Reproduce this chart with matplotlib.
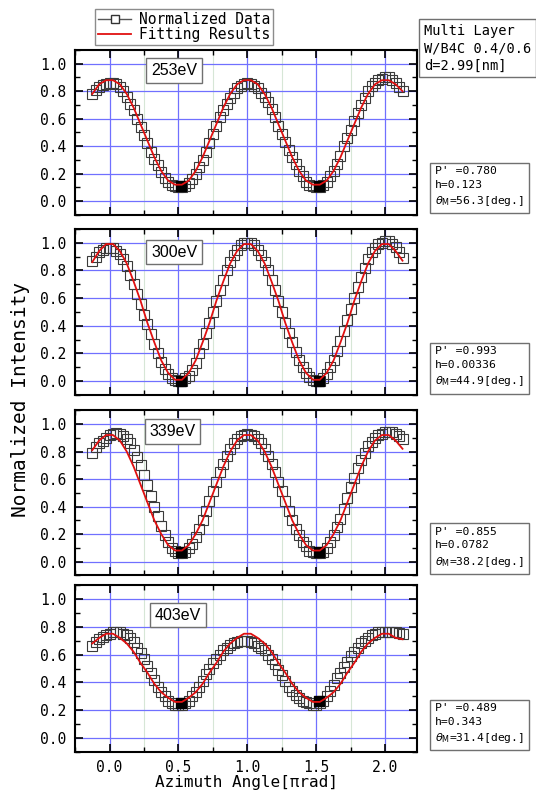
import numpy as np
import matplotlib.pyplot as plt
from matplotlib.lines import Line2D
from matplotlib.ticker import MultipleLocator

# azimuth angle of the measured points, in units of pi rad
angle = [-0.125, -0.100, -0.075, -0.050, -0.025, 0.000, 0.025, 0.050, 0.075, 0.100,
         0.125, 0.150, 0.175, 0.200, 0.225, 0.250, 0.275, 0.300, 0.325, 0.350,
         0.375, 0.400, 0.425, 0.450, 0.475, 0.500, 0.525, 0.550, 0.575, 0.600,
         0.625, 0.650, 0.675, 0.700, 0.725, 0.750, 0.775, 0.800, 0.825, 0.850,
         0.875, 0.900, 0.925, 0.950, 0.975, 1.000, 1.025, 1.050, 1.075, 1.100,
         1.125, 1.150, 1.175, 1.200, 1.225, 1.250, 1.275, 1.300, 1.325, 1.350,
         1.375, 1.400, 1.425, 1.450, 1.475, 1.500, 1.525, 1.550, 1.575, 1.600,
         1.625, 1.650, 1.675, 1.700, 1.725, 1.750, 1.775, 1.800, 1.825, 1.850,
         1.875, 1.900, 1.925, 1.950, 1.975, 2.000, 2.025, 2.050, 2.075, 2.100,
         2.125]

# angle of the points of the fitted curve
fit_angle = [-0.125, -0.075, -0.025, 0.025, 0.075, 0.125, 0.175, 0.225, 0.275, 0.325,
             0.375, 0.425, 0.475, 0.525, 0.575, 0.625, 0.675, 0.725, 0.775, 0.825,
             0.875, 0.925, 0.975, 1.025, 1.075, 1.125, 1.175, 1.225, 1.275, 1.325,
             1.375, 1.425, 1.475, 1.525, 1.575, 1.625, 1.675, 1.725, 1.775, 1.825,
             1.875, 1.925, 1.975, 2.025, 2.075, 2.125]

energies = ['253eV', '300eV', '339eV', '403eV']

data_253 = [0.78, 0.81, 0.83, 0.845, 0.85, 0.86, 0.86, 0.85, 0.83, 0.80,
            0.76, 0.71, 0.66, 0.60, 0.54, 0.48, 0.42, 0.36, 0.31, 0.26,
            0.21, 0.17, 0.14, 0.12, 0.11, 0.10, 0.10, 0.11, 0.13, 0.16,
            0.20, 0.25, 0.30, 0.36, 0.42, 0.49, 0.55, 0.61, 0.66, 0.71,
            0.75, 0.79, 0.82, 0.84, 0.85, 0.86, 0.85, 0.84, 0.82, 0.79,
            0.76, 0.72, 0.67, 0.61, 0.55, 0.49, 0.43, 0.37, 0.32, 0.27,
            0.22, 0.18, 0.14, 0.12, 0.11, 0.10, 0.10, 0.12, 0.14, 0.18,
            0.22, 0.27, 0.33, 0.40, 0.46, 0.52, 0.58, 0.64, 0.70, 0.75,
            0.80, 0.84, 0.86, 0.88, 0.89, 0.90, 0.90, 0.88, 0.86, 0.83,
            0.80]
fit_253 = [0.78, 0.85, 0.88, 0.88, 0.85, 0.78, 0.68, 0.56, 0.44, 0.32,
           0.22, 0.15, 0.12, 0.12, 0.15, 0.22, 0.32, 0.44, 0.56, 0.68,
           0.78, 0.85, 0.88, 0.88, 0.85, 0.78, 0.68, 0.56, 0.44, 0.32,
           0.22, 0.15, 0.12, 0.12, 0.15, 0.22, 0.32, 0.44, 0.56, 0.68,
           0.78, 0.85, 0.88, 0.88, 0.85, 0.80]

data_300 = [0.87, 0.90, 0.93, 0.95, 0.96, 0.965, 0.96, 0.94, 0.92, 0.88,
            0.83, 0.77, 0.70, 0.63, 0.56, 0.48, 0.41, 0.34, 0.27, 0.20,
            0.14, 0.09, 0.05, 0.02, 0.01, 0.00, 0.00, 0.02, 0.04, 0.08,
            0.13, 0.20, 0.27, 0.35, 0.42, 0.50, 0.58, 0.66, 0.73, 0.80,
            0.86, 0.91, 0.95, 0.98, 1.00, 1.00, 1.00, 0.98, 0.95, 0.91,
            0.86, 0.80, 0.73, 0.66, 0.58, 0.50, 0.42, 0.35, 0.28, 0.21,
            0.15, 0.10, 0.06, 0.03, 0.01, 0.00, 0.00, 0.02, 0.05, 0.10,
            0.15, 0.22, 0.29, 0.36, 0.44, 0.52, 0.60, 0.68, 0.75, 0.82,
            0.88, 0.93, 0.96, 0.99, 1.00, 1.01, 1.01, 0.99, 0.97, 0.93,
            0.89]
fit_300 = [0.86, 0.94, 0.99, 0.99, 0.94, 0.85, 0.72, 0.58, 0.42, 0.28,
           0.15, 0.06, 0.01, 0.01, 0.06, 0.15, 0.28, 0.42, 0.58, 0.72,
           0.85, 0.94, 0.99, 0.99, 0.94, 0.85, 0.72, 0.58, 0.42, 0.28,
           0.15, 0.06, 0.01, 0.01, 0.06, 0.15, 0.28, 0.42, 0.58, 0.72,
           0.85, 0.94, 0.99, 0.99, 0.94, 0.87]

data_339 = [0.79, 0.83, 0.86, 0.88, 0.90, 0.92, 0.93, 0.935, 0.93, 0.915,
            0.89, 0.86, 0.81, 0.76, 0.70, 0.63, 0.56, 0.48, 0.40, 0.33,
            0.26, 0.19, 0.14, 0.10, 0.08, 0.06, 0.06, 0.07, 0.10, 0.13,
            0.18, 0.24, 0.30, 0.37, 0.44, 0.51, 0.58, 0.65, 0.71, 0.77,
            0.82, 0.86, 0.89, 0.91, 0.92, 0.925, 0.92, 0.91, 0.89, 0.86,
            0.82, 0.77, 0.71, 0.65, 0.58, 0.51, 0.44, 0.37, 0.30, 0.24,
            0.19, 0.14, 0.11, 0.08, 0.07, 0.06, 0.06, 0.07, 0.10, 0.14,
            0.19, 0.25, 0.31, 0.38, 0.46, 0.54, 0.61, 0.68, 0.74, 0.79,
            0.84, 0.87, 0.90, 0.92, 0.93, 0.94, 0.94, 0.94, 0.93, 0.91,
            0.89]
fit_339 = [0.81, 0.88, 0.92, 0.92, 0.88, 0.80, 0.69, 0.56, 0.43, 0.30,
           0.20, 0.12, 0.08, 0.08, 0.12, 0.20, 0.30, 0.43, 0.56, 0.69,
           0.80, 0.88, 0.92, 0.92, 0.88, 0.80, 0.69, 0.56, 0.43, 0.30,
           0.20, 0.12, 0.08, 0.08, 0.12, 0.20, 0.30, 0.43, 0.56, 0.69,
           0.80, 0.88, 0.92, 0.92, 0.88, 0.82]

data_403 = [0.66, 0.69, 0.71, 0.73, 0.74, 0.75, 0.76, 0.765, 0.76, 0.75,
            0.74, 0.72, 0.69, 0.65, 0.61, 0.57, 0.52, 0.47, 0.42, 0.37,
            0.33, 0.30, 0.27, 0.25, 0.24, 0.24, 0.24, 0.25, 0.27, 0.30,
            0.33, 0.37, 0.41, 0.46, 0.50, 0.54, 0.57, 0.60, 0.63, 0.65,
            0.67, 0.68, 0.69, 0.70, 0.70, 0.70, 0.69, 0.68, 0.66, 0.65,
            0.63, 0.60, 0.57, 0.53, 0.49, 0.45, 0.41, 0.37, 0.34, 0.31,
            0.29, 0.27, 0.26, 0.25, 0.24, 0.24, 0.25, 0.27, 0.30, 0.34,
            0.38, 0.43, 0.47, 0.51, 0.55, 0.59, 0.62, 0.65, 0.68, 0.70,
            0.72, 0.74, 0.75, 0.76, 0.76, 0.76, 0.76, 0.76, 0.76, 0.755,
            0.75]
fit_403 = [0.68, 0.72, 0.75, 0.75, 0.72, 0.68, 0.62, 0.54, 0.47, 0.39,
           0.33, 0.29, 0.26, 0.26, 0.29, 0.33, 0.39, 0.47, 0.54, 0.62,
           0.68, 0.72, 0.75, 0.75, 0.72, 0.68, 0.62, 0.54, 0.47, 0.39,
           0.33, 0.29, 0.26, 0.26, 0.29, 0.33, 0.39, 0.47, 0.54, 0.62,
           0.68, 0.72, 0.75, 0.75, 0.72, 0.71]

# points at the minima drawn as filled squares
min_x = [0.52, 1.52]
min_253 = [0.11, 0.11]
min_300 = [0.00, 0.00]
min_339 = [0.07, 0.07]
min_403 = [0.25, 0.27]

p_vals = ['0.780', '0.993', '0.855', '0.489']
h_vals = ['0.123', '0.00336', '0.0782', '0.343']
theta_vals = ['56.3', '44.9', '38.2', '31.4']

all_data = [data_253, data_300, data_339, data_403]
all_fit = [fit_253, fit_300, fit_339, fit_403]
all_min = [min_253, min_300, min_339, min_403]

MONO = 'DejaVu Sans Mono'
plt.rcParams['font.family'] = MONO

fig = plt.figure(figsize=(5.36, 7.99), dpi=100)

bottoms = [0.731, 0.5056, 0.280, 0.0588]
heights = [0.2065, 0.208, 0.2065, 0.209]
label_pos = [(0.29, 0.875), (0.29, 0.86), (0.285, 0.87), (0.30, 0.82)]

axes = []
for i in range(4):
    ax = fig.add_axes([0.140, bottoms[i], 0.638, heights[i]])
    axes.append(ax)
    ax.plot(angle, all_data[i], ls='none', marker='s', ms=7, mfc='none',
            mec='#3a3a3a', mew=0.8, zorder=3)
    ax.plot(min_x, all_min[i], ls='none', marker='s', ms=6.5, mfc='black',
            mec='black', zorder=4)
    ax.plot(fit_angle, all_fit[i], color='#e01010', lw=1.3, zorder=5)

    ax.set_xlim(-0.25, 2.23)
    ax.set_ylim(-0.1, 1.1)
    ax.xaxis.set_major_locator(MultipleLocator(0.5))
    ax.xaxis.set_minor_locator(MultipleLocator(0.25))
    ax.yaxis.set_major_locator(MultipleLocator(0.2))
    ax.yaxis.set_minor_locator(MultipleLocator(0.1))
    ax.grid(which='major', color='#7070ff', lw=0.9)
    ax.grid(which='minor', axis='x', color='#d6e6d6', lw=0.8)
    ax.set_axisbelow(True)
    ax.tick_params(which='both', direction='in', top=True, right=True,
                   labelsize=10.5, pad=6)
    ax.tick_params(which='major', length=6, width=1.2)
    ax.tick_params(which='minor', length=3.5, width=1.0)
    for s in ax.spines.values():
        s.set_linewidth(1.5)
    ax.set_yticks([0.0, 0.2, 0.4, 0.6, 0.8, 1.0])
    ax.set_yticklabels(['0.0', '0.2', '0.4', '0.6', '0.8', '1.0'])
    if i < 3:
        ax.tick_params(labelbottom=False)

    ax.text(label_pos[i][0], label_pos[i][1], energies[i], transform=ax.transAxes,
            ha='center', va='center', fontsize=11.5, family='Liberation Sans',
            bbox=dict(boxstyle='square,pad=0.3', fc='white', ec='#707070', lw=1.0),
            zorder=6)

    txt = "P' =" + p_vals[i] + "\nh=" + h_vals[i] + "\n$\\theta_{\\rm M}$=" + theta_vals[i] + "[deg.]"
    ax.text(1.053, 0.04, txt, transform=ax.transAxes, ha='left', va='bottom',
            fontsize=8.2, linespacing=1.45,
            bbox=dict(boxstyle='square,pad=0.45', fc='white', ec='#707070', lw=1.0),
            clip_on=False)

axes[3].set_xticks([0.0, 0.5, 1.0, 1.5, 2.0])
axes[3].set_xticklabels(['0.0', '0.5', '1.0', '1.5', '2.0'])
axes[3].set_xlabel('Azimuth Angle[\u03c0rad]', fontsize=11.5, labelpad=0)

fig.text(0.038, 0.5, 'Normalized Intensity', rotation=90, ha='center',
         va='center', fontsize=14)

fig.text(0.791, 1 - 24 / 799, 'Multi Layer\nW/B4C 0.4/0.6\nd=2.99[nm]',
         ha='left', va='top', fontsize=9.8, linespacing=1.3,
         bbox=dict(boxstyle='square,pad=0.35', fc='white', ec='#707070', lw=1.0))

handles = [Line2D([], [], color='#555555', lw=1.0, marker='s', ms=6,
                  mfc='white', mec='#333333'),
           Line2D([], [], color='#e01010', lw=1.3)]
leg = fig.legend(handles, ['Normalized Data', 'Fitting Results'], loc='upper left',
                 bbox_to_anchor=(95 / 536, 1 - 9 / 799), fontsize=10.5,
                 frameon=True, fancybox=False, edgecolor='#707070',
                 borderpad=0.2, labelspacing=0.0, handlelength=2.3,
                 handletextpad=0.5, borderaxespad=0, markerscale=1.0)
leg.get_frame().set_linewidth(1.0)

fig.savefig('out.png', dpi=100)
